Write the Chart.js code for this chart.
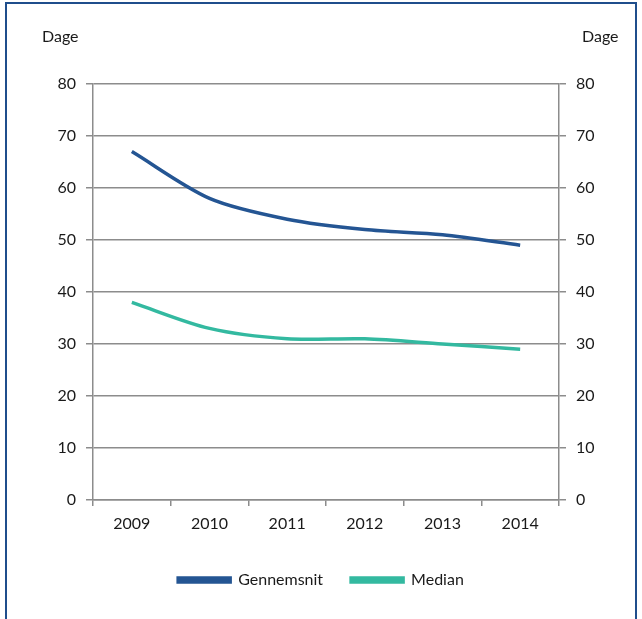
<!DOCTYPE html>
<html>
<head>
<meta charset="utf-8">
<script src="https://cdn.jsdelivr.net/npm/chart.js@4/dist/chart.umd.min.js"></script>
<style>
  html, body { margin: 0; padding: 0; background: #fff; }
  #wrap { position: relative; width: 642px; height: 619px; overflow: hidden; }
  #frame {
    position: absolute; left: 5px; top: 2px; width: 632px; height: 640px;
    border: 2px solid #1f4e8c; box-sizing: border-box;
  }
  canvas { position: absolute; left: 0; top: 0; }
</style>
</head>
<body>
<div id="wrap">
  <div id="frame"></div>
  <canvas id="chart" width="642" height="619"></canvas>
</div>
<script>
var years = ['2009', '2010', '2011', '2012', '2013', '2014'];
var gennemsnit = [67, 58, 54, 52, 51, 49];
var median = [38, 33, 31, 31, 30, 29];
var yTicks = [0, 10, 20, 30, 40, 50, 60, 70, 80];

var FONT = 'Lato, "Open Sans", sans-serif';
var TEXT = '#1a1a1a';
var GRID = '#8c8c8c';

// "Dage" over both value axes
var axisTitles = {
    id: 'axisTitles',
    afterDraw: function(chart) {
        var ctx = chart.ctx;
        ctx.save();
        ctx.font = '16px ' + FONT;
        ctx.fillStyle = TEXT;
        ctx.textBaseline = 'alphabetic';
        ctx.textAlign = 'left';
        ctx.fillText('Dage', 42, 42);
        ctx.fillText('Dage', 582, 42);
        ctx.restore();
    }
};

var yCommon = {
    min: 0,
    max: 80,
    afterBuildTicks: function(scale) {
        scale.ticks = yTicks.map(function(v) { return { value: v }; });
    },
    ticks: { color: TEXT, font: { family: FONT, size: 16 }, padding: 10 },
    border: { display: true, color: GRID, width: 1.5 }
};

new Chart(document.getElementById('chart'), {
    type: 'line',
    data: {
        labels: years,
        datasets: [{
            label: 'Gennemsnit',
            data: gennemsnit,
            borderColor: '#245593',
            backgroundColor: '#245593',
            borderWidth: 3.5,
            pointRadius: 0,
            tension: 0.3,
            yAxisID: 'y'
        }, {
            label: 'Median',
            data: median,
            borderColor: '#33b9a0',
            backgroundColor: '#33b9a0',
            borderWidth: 3.5,
            pointRadius: 0,
            tension: 0.3,
            yAxisID: 'y2'
        }]
    },
    options: {
        responsive: false,
        animation: false,
        layout: { padding: { top: 84, left: 0, right: 0, bottom: 21 } },
        plugins: {
            tooltip: { enabled: false },
            legend: {
                position: 'bottom',
                labels: {
                    color: TEXT,
                    font: { family: FONT, size: 16 },
                    boxWidth: 52,
                    boxHeight: 4,
                    padding: 28
                }
            }
        },
        scales: {
            x: {
                offset: true,
                grid: { offset: true, drawOnChartArea: false, drawTicks: true, tickLength: 6, color: GRID, lineWidth: 1.5 },
                border: { display: true, color: GRID, width: 1.5 },
                ticks: { color: TEXT, font: { family: FONT, size: 16 }, padding: 8, maxRotation: 0 },
                afterFit: function(scale) { scale.height = 44; }
            },
            y: Object.assign({}, yCommon, {
                position: 'left',
                grid: { color: GRID, lineWidth: 1.5, tickLength: 7 },
                afterFit: function(scale) { scale.width = 93; }
            }),
            y2: Object.assign({}, yCommon, {
                position: 'right',
                grid: { drawOnChartArea: false, color: GRID, lineWidth: 1.5, tickLength: 7 },
                afterFit: function(scale) { scale.width = 83; }
            })
        }
    },
    plugins: [axisTitles]
});
</script>
</body>
</html>
